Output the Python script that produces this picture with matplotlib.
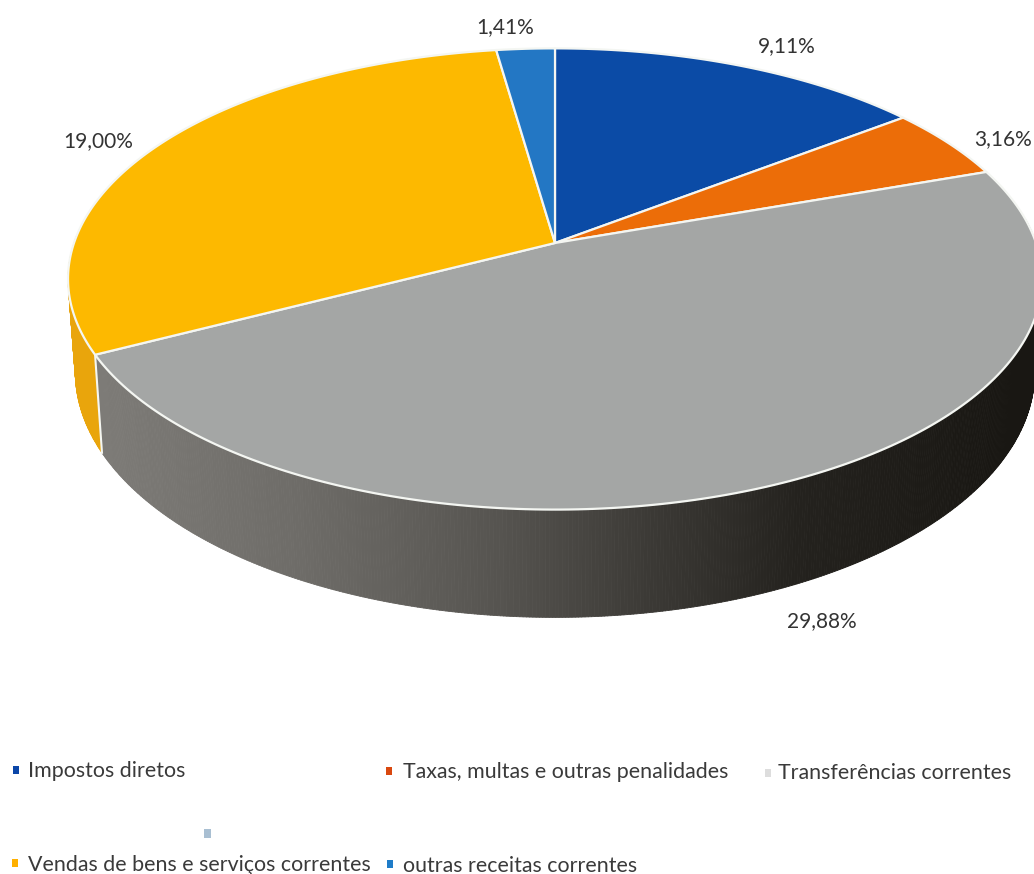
import numpy as np
import matplotlib
matplotlib.use("Agg")
import matplotlib.pyplot as plt
from matplotlib.patches import Polygon, Rectangle
from matplotlib.collections import PolyCollection

categories = ["Impostos diretos", "Taxas, multas e outras penalidades",
              "Transferências correntes", "Vendas de bens e serviços correntes",
              "outras receitas correntes"]
values = [9.11, 3.16, 29.88, 19.00, 1.41]
value_labels = ["9,11%", "3,16%", "29,88%", "19,00%", "1,41%"]
top_colors = ["#0B4BA6", "#EC6D08", "#A4A6A5", "#FDB900", "#2377C4"]
marker_colors = ["#0B46A8", "#D9480F", "#DDDDDD", "#FFB000", "#1F7CC8"]

# pie projection (pixel space)
CX, CY, A, B, K, DEPTH, SHRINK = 555.0, 243.0, 481.0, 225.0, 0.156, 91.0, 0.985


def project(theta_deg, drop=0.0):
    t = np.radians(theta_deg)
    u, v = np.sin(t), np.cos(t)
    w = 1 + K * v
    x = CX + A * u / w
    if drop:
        x = CX + (x - CX) * SHRINK
    return x, CY - B * v / w + drop / w


def side_shade(x):
    xs = [70, 100, 300, 500, 650, 800, 1000, 1040]
    ys = [128, 125, 110, 86, 60, 36, 25, 25]
    g = np.interp(x, xs, ys)
    return (g / 255, (g - 2) / 255, (g - 6) / 255)


fig = plt.figure(figsize=(10.34, 8.74), dpi=100, facecolor="white")
ax = fig.add_axes([0, 0, 1, 1])
ax.set_xlim(0, 1034)
ax.set_ylim(874, 0)
ax.axis("off")

edges = np.concatenate([[0], np.cumsum(values)]) / np.sum(values) * 360

# rim, front half only
for i in range(len(values)):
    a0, a1 = max(edges[i], 84), min(edges[i + 1], 272)
    if a1 <= a0:
        continue
    th = np.linspace(a0, a1, int((a1 - a0) * 3) + 2)
    xt, yt = project(th)
    xb, yb = project(th, DEPTH)
    polys, cols = [], []
    for j in range(len(th) - 1):
        polys.append([(xt[j], yt[j]), (xt[j + 1], yt[j + 1]),
                      (xb[j + 1], yb[j + 1]), (xb[j], yb[j])])
        cols.append(side_shade(xt[j]) if i == 2 else "#E9A50C")
    ax.add_collection(PolyCollection(polys, facecolors=cols, edgecolors=cols,
                                     linewidths=0.6, zorder=2))

# top faces
for i in range(len(values)):
    th = np.linspace(edges[i], edges[i + 1], 200)
    x, y = project(th)
    pts = np.column_stack([np.r_[CX, x], np.r_[CY, y]])
    ax.add_patch(Polygon(pts, closed=True, facecolor=top_colors[i],
                         edgecolor="#F4F6F2", linewidth=1.6,
                         joinstyle="round", zorder=3))

# white seam between gray and yellow rim
sx0, sy0 = project(edges[3])
sx1, sy1 = project(edges[3], DEPTH)
ax.plot([sx0, sx1], [sy0, sy1], color="#F4F6F2", lw=1.5, zorder=2.5)

label_font = dict(family="Lato", fontsize=15, color="#333333",
                  ha="center", va="center")
label_pos = [(787, 46), (1003, 139), (822, 621), (98, 141), (505, 27)]
for txt, (lx, ly) in zip(value_labels, label_pos):
    ax.text(lx, ly, txt, **label_font)

legend_font = dict(family="Lato", fontsize=15.4, color="#3A3A3A",
                   ha="left", va="center")
text_pos = [(28, 771), (403, 772), (778, 773), (28, 865), (403, 866)]
mark_pos = [(16, 770), (389, 771), (768, 773), (15, 863), (390, 864)]
for name, col, (tx, ty), (mx, my) in zip(categories, marker_colors, text_pos, mark_pos):
    ax.text(tx, ty, name, **legend_font)
    ax.add_patch(Rectangle((mx - 3, my - 4), 6, 8, facecolor=col, edgecolor="none"))

# scanner speck
ax.add_patch(Rectangle((204, 829), 7, 9, facecolor="#A9BFD2", edgecolor="none"))

fig.savefig("out.png", dpi=100, facecolor="white")
